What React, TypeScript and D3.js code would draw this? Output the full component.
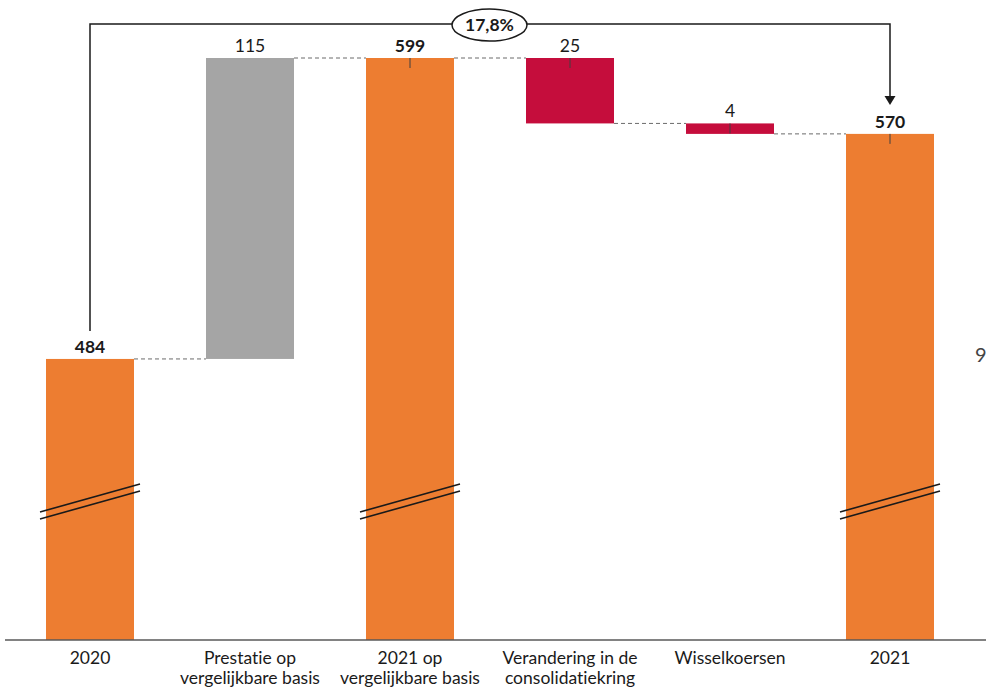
import React from "react";
import * as d3 from "d3";

const categories = [
  ["2020"],
  ["Prestatie op", "vergelijkbare basis"],
  ["2021 op", "vergelijkbare basis"],
  ["Verandering in de", "consolidatiekring"],
  ["Wisselkoersen"],
  ["2021"],
];
const kinds = ["total", "up", "total", "down", "down", "total"];
const values = [484, 115, 599, -25, -4, 570];
const labels = ["484", "115", "599", "25", "4", "570"];
const boldLabel = [true, false, true, false, false, true];
const tickMark = [false, false, true, true, true, true];
const breakMark = [true, false, true, false, false, true];
const growthLabel = "17,8%";
const axisBreakValue = 376.6;

const W = 986;
const H = 689;
const colors: Record<string, string> = { total: "#ED7D31", up: "#A5A5A5", down: "#C50D3C" };
const FONT = "Lato, 'Open Sans', sans-serif";
const noLig = { fontVariantLigatures: "none" as const };

export default function App() {
  const x = d3
    .scaleBand<number>()
    .domain(d3.range(categories.length))
    .range([10, 970])
    .paddingInner(0.45)
    .paddingOuter(0.225);
  const y = d3.scaleLinear().domain([axisBreakValue, 599]).range([640, 58]);
  const baseY = 640;

  let running = 0;
  const segs = values.map((v, i) => {
    let lo: number, hi: number, end: number;
    if (kinds[i] === "total") {
      lo = axisBreakValue;
      hi = v;
      end = v;
    } else {
      const start = running;
      end = start + v;
      lo = Math.min(start, end);
      hi = Math.max(start, end);
    }
    running = end;
    return { lo, hi, end, i };
  });

  const bw = x.bandwidth();
  const cx = (i: number) => (x(i) as number) + bw / 2;

  const firstTop = y(segs[0].hi);
  const lastTop = y(segs[segs.length - 1].hi);
  const bracketY = 24;
  const ovalCx = 489.5;

  return (
    <svg width={W} height={H} style={{ position: "absolute", left: 0, top: 0 }}>
      <rect width={W} height={H} fill="#fff" />
      {segs.slice(0, -1).map((s, i) => (
        <line
          key={"c" + i}
          x1={(x(i) as number) + bw}
          x2={x(i + 1) as number}
          y1={y(s.end)}
          y2={y(s.end)}
          stroke="#6b6b6b"
          strokeWidth={1}
          strokeDasharray="4,3"
        />
      ))}
      {segs.map((s, i) => (
        <rect
          key={"b" + i}
          x={x(i)}
          y={y(s.hi)}
          width={bw}
          height={(s.lo === axisBreakValue ? baseY : y(s.lo)) - y(s.hi)}
          fill={colors[kinds[i]]}
        />
      ))}
      {segs.map((s, i) =>
        tickMark[i] ? (
          <line
            key={"t" + i}
            x1={cx(i)}
            x2={cx(i)}
            y1={y(s.hi)}
            y2={y(s.hi) + 10}
            stroke="#404040"
            strokeWidth={1}
          />
        ) : null
      )}
      {segs.map((s, i) =>
        breakMark[i] ? (
          <g key={"br" + i} stroke="#1a1a1a" strokeWidth={1.6}>
            <line x1={(x(i) as number) - 6} y1={512} x2={(x(i) as number) + bw + 6} y2={484} />
            <line x1={(x(i) as number) - 6} y1={519} x2={(x(i) as number) + bw + 6} y2={491} />
          </g>
        ) : null
      )}
      {segs.map((s, i) => (
        <text
          key={"l" + i}
          x={cx(i)}
          y={y(s.hi) - 6}
          textAnchor="middle"
          fontFamily={FONT}
          fontSize={17.5}
          fontWeight={boldLabel[i] ? 700 : 400}
          fill="#1a1a1a"
        >
          {labels[i]}
        </text>
      ))}
      <line x1={5} x2={W} y1={baseY} y2={baseY} stroke="#595959" strokeWidth={1.5} />
      {categories.map((c, i) =>
        c.map((line, j) => (
          <text
            key={"x" + i + "_" + j}
            x={cx(i)}
            y={664 + j * 20}
            textAnchor="middle"
            fontFamily={FONT}
            fontSize={17.5}
            fill="#1a1a1a"
            style={noLig}
          >
            {line}
          </text>
        ))
      )}
      <path
        d={`M${cx(0)},${firstTop - 28} V${bracketY} H${cx(5)} V${lastTop - 38}`}
        fill="none"
        stroke="#1a1a1a"
        strokeWidth={1.5}
      />
      <path
        d={`M${cx(5) - 5.5},${lastTop - 38} L${cx(5) + 5.5},${lastTop - 38} L${cx(5)},${lastTop - 29} Z`}
        fill="#1a1a1a"
      />
      <ellipse cx={ovalCx} cy={bracketY + 1} rx={37.5} ry={16} fill="#fff" stroke="#1a1a1a" strokeWidth={1.5} />
      <text
        x={ovalCx}
        y={bracketY + 7}
        textAnchor="middle"
        fontFamily={FONT}
        fontSize={17.5}
        fontWeight={700}
        fill="#1a1a1a"
      >
        {growthLabel}
      </text>
      <text x={975} y={362} fontFamily={FONT} fontSize={20} fill="#444">
        9
      </text>
    </svg>
  );
}
